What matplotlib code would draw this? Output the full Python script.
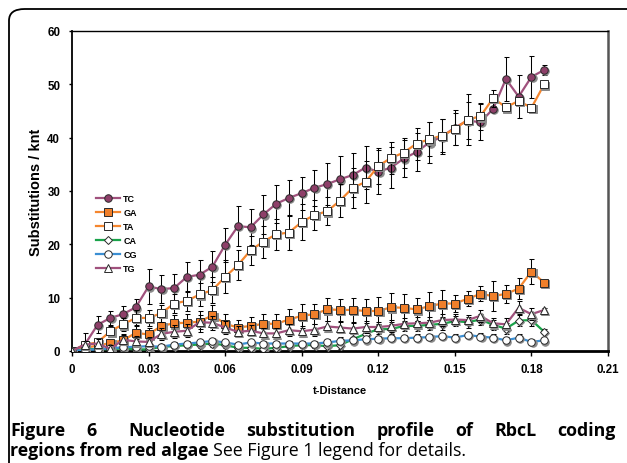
import matplotlib
matplotlib.use('Agg')
import matplotlib.pyplot as plt
import matplotlib.transforms as mtransforms
from matplotlib.patches import FancyBboxPatch
from matplotlib.lines import Line2D

plt.rcParams['font.family'] = ['Liberation Sans', 'DejaVu Sans']

t_distance = [0, 0.005, 0.01, 0.015, 0.02, 0.025, 0.03, 0.035, 0.04, 0.045,
              0.05, 0.055, 0.06, 0.065, 0.07, 0.075, 0.08, 0.085, 0.09, 0.095,
              0.1, 0.105, 0.11, 0.115, 0.12, 0.125, 0.13, 0.135, 0.14, 0.145,
              0.15, 0.155, 0.16, 0.165, 0.17, 0.175, 0.18, 0.185]

tc = [0, 1.2, 4.9, 6.2, 6.9, 8.2, 12.1, 11.6, 11.8, 13.9,
      14.3, 15.8, 19.9, 23.4, 23.2, 25.6, 27.6, 28.7, 29.6, 30.6,
      31.3, 32.2, 33.0, 34.4, 33.6, 34.4, 36.1, 37.3, 39.1, 40.2,
      41.9, 43.2, 42.9, 45.4, 51.0, 47.7, 51.4, 52.7]
tc_err = [0, 2.2, 1.6, 1.3, 1.5, 1.5, 3.2, 2.6, 2.7, 2.8,
          2.8, 2.9, 3.2, 3.8, 3.4, 3.6, 3.6, 3.4, 3.1, 3.4,
          3.9, 4.4, 4.1, 4.1, 4.1, 3.9, 3.5, 3.5, 3.9, 3.3,
          3.2, 3.5, 3.4, 0.5, 4.2, 4.1, 3.9, 1.0]

ga = [0, 0.6, 1.0, 1.5, 2.0, 3.4, 3.1, 4.7, 5.2, 5.3,
      5.5, 6.7, 5.1, 4.4, 4.7, 5.1, 5.1, 5.9, 6.6, 6.9,
      7.8, 7.7, 7.7, 7.5, 7.5, 8.2, 8.1, 7.8, 8.4, 8.9,
      8.9, 9.8, 10.7, 10.3, 10.7, 11.7, 14.9, 12.8]
ga_err = [0, 0.5, 0.6, 0.8, 1.0, 1.2, 1.3, 1.5, 1.5, 1.7,
          2.0, 2.0, 1.8, 1.5, 1.6, 1.8, 1.8, 1.9, 2.2, 1.9,
          2.2, 2.0, 2.2, 2.2, 2.7, 2.7, 2.6, 2.2, 2.6, 2.6,
          1.6, 1.4, 1.4, 2.8, 1.7, 1.9, 2.4, 0.3]

ta = [0, 1.2, 1.6, 3.7, 5.0, 6.2, 6.2, 7.1, 8.9, 9.4,
      10.6, 11.4, 13.9, 16.1, 18.9, 20.5, 21.9, 22.2, 24.2, 25.5,
      26.2, 28.2, 30.6, 31.7, 34.7, 36.2, 37.2, 38.9, 39.7, 40.4,
      41.6, 43.4, 44.0, 47.4, 45.7, 46.9, 45.6, 50.0]
ta_err = [0, 0.6, 0.8, 1.0, 1.2, 1.4, 1.5, 1.6, 1.8, 1.9,
          2.2, 2.4, 3.1, 2.8, 2.7, 3.0, 2.9, 3.3, 3.3, 2.9,
          2.6, 3.1, 3.7, 3.9, 3.4, 3.0, 2.8, 3.0, 3.2, 3.1,
          3.0, 4.7, 2.5, 1.6, 0.8, 0.8, 0.8, 0.5]

ca = [0, 0.3, 0.4, 0.3, 0.5, 0.3, 0.3, 0.8, 0.9, 1.1,
      1.2, 1.4, 1.1, 0.6, 0.6, 0.4, 0.6, 0.9, 1.1, 1.1,
      0.9, 1.1, 2.2, 3.2, 4.1, 4.1, 4.7, 4.7, 4.9, 5.1,
      5.6, 5.4, 5.9, 4.9, 4.2, 5.7, 5.8, 3.6]
ca_err = [0, 0.3, 0.3, 0.3, 0.4, 0.4, 0.4, 0.5, 0.5, 0.6,
          0.6, 0.6, 0.6, 0.5, 0.5, 0.5, 0.5, 0.6, 0.6, 0.6,
          0.7, 0.8, 0.9, 0.9, 0.9, 0.9, 1.0, 1.0, 1.0, 1.1,
          1.0, 1.0, 1.1, 1.0, 1.0, 1.0, 1.1, 0.5]

cg = [0, 0.2, 0.3, 0.5, 0.7, 0.8, 0.9, 0.8, 1.2, 1.4,
      1.6, 1.9, 1.6, 1.2, 1.6, 1.4, 1.4, 1.4, 1.4, 1.4,
      1.6, 1.9, 2.0, 2.2, 2.3, 2.4, 2.4, 2.5, 2.6, 2.8,
      2.5, 3.0, 2.7, 2.5, 2.0, 2.5, 1.7, 2.0]
cg_err = [0, 0.2, 0.2, 0.3, 0.3, 0.3, 0.4, 0.4, 0.4, 0.5,
          0.5, 0.5, 0.5, 0.5, 0.5, 0.5, 0.5, 0.5, 0.5, 0.5,
          0.6, 0.7, 0.7, 0.7, 0.6, 0.6, 0.6, 0.6, 0.6, 0.6,
          0.6, 0.6, 0.6, 0.6, 0.6, 0.6, 0.6, 0.3]

tg = [0, 1.2, 1.4, 0.4, 2.1, 1.8, 1.7, 3.2, 3.6, 3.8,
      5.4, 5.3, 4.4, 3.6, 3.8, 3.3, 3.3, 3.9, 3.7, 4.0,
      4.6, 4.4, 4.2, 4.5, 4.5, 4.7, 5.1, 5.2, 5.3, 5.8,
      5.9, 5.8, 6.6, 5.2, 5.0, 8.1, 6.9, 7.7]
tg_err = [0, 0.6, 0.8, 0.7, 1.0, 1.0, 1.0, 1.1, 1.2, 1.2,
          1.3, 1.3, 1.2, 1.0, 1.0, 1.0, 1.0, 1.1, 1.0, 1.1,
          1.1, 1.0, 1.0, 1.1, 1.0, 1.1, 1.0, 1.1, 1.0, 1.2,
          1.1, 1.0, 1.1, 1.0, 1.1, 1.2, 1.1, 0.4]

x_ticks = [0, 0.03, 0.06, 0.09, 0.12, 0.15, 0.18, 0.21]
x_tick_labels = ['0', '0.03', '0.06', '0.09', '0.12', '0.15', '0.18', '0.21']
y_ticks = [0, 10, 20, 30, 40, 50, 60]

caption_line1 = 'Figure 6  Nucleotide substitution profile of RbcL coding'
caption_bold2 = 'regions from red algae'
caption_rest2 = 'See Figure 1 legend for details.'

purple = '#a0517d'
orange = '#f5862e'
green = '#1aa34a'
blue = '#3b8fd3'

# label, values, errors, line colour, marker, marker face
series = [
    ('TC', tc, tc_err, purple, 'o', '#8e3f69'),
    ('GA', ga, ga_err, orange, 's', '#f07f2a'),
    ('TA', ta, ta_err, orange, 's', 'white'),
    ('CA', ca, ca_err, green, 'D', 'white'),
    ('CG', cg, cg_err, blue, 'o', 'white'),
    ('TG', tg, tg_err, purple, '^', 'white'),
]
marker_sizes = {'o': 5.4, 's': 5.2, 'D': 3.8, '^': 5.6}

fig = plt.figure(figsize=(6.27, 4.64), dpi=100)
fig.patch.set_facecolor('white')

# rounded frame around figure + caption (right and bottom run off the page)
frame = FancyBboxPatch((9 / 627, -0.1), 1.2, 1.1 - 10 / 464,
                       boxstyle='round,pad=0,rounding_size=0.025',
                       transform=fig.transFigure, facecolor='none',
                       edgecolor='black', linewidth=1.3, clip_on=False)
fig.patches.append(frame)

ax = fig.add_axes([72 / 627, 1 - 352 / 464, 536 / 627, 320 / 464])

shadow = ax.transData + mtransforms.ScaledTranslation(0.9 / 72, -0.9 / 72, fig.dpi_scale_trans)

handles = []
for i, (name, vals, errs, color, marker, face) in enumerate(series):
    ms = marker_sizes[marker]
    z = 3 + i * 0.1
    ax.plot(t_distance, vals, color=color, lw=1.6, zorder=z, solid_joinstyle='round')
    ax.errorbar(t_distance, vals, yerr=errs, fmt='none', ecolor='black',
                elinewidth=0.75, capsize=1.8, capthick=0.75, zorder=z + 0.02)
    ax.plot(t_distance, vals, ls='none', marker=marker, ms=ms, mfc='#8a8a8a',
            mec='#8a8a8a', mew=0.7, transform=shadow, zorder=z + 0.03)
    ax.plot(t_distance, vals, ls='none', marker=marker, ms=ms, mfc=face,
            mec='#2a2a2a', mew=0.7, zorder=z + 0.04)
    handles.append(Line2D([], [], color=color, lw=1.6, marker=marker, ms=ms,
                          mfc=face, mec='#2a2a2a', mew=0.7))

ax.legend(handles, [s[0] for s in series], loc='upper left',
          bbox_to_anchor=(0.045, 0.49), frameon=False, borderpad=0,
          borderaxespad=0, handlelength=2.6, handletextpad=0.4,
          labelspacing=0.56, prop={'weight': 'bold', 'size': 6.5})

ax.set_xlim(0, 0.21)
ax.set_ylim(0, 60)
ax.set_xticks(x_ticks)
ax.set_xticklabels(x_tick_labels)
ax.set_yticks(y_ticks)
ax.tick_params(axis='y', direction='out', length=2.5, width=1, pad=6, labelsize=8.3)
ax.tick_params(axis='x', direction='out', length=3.6, width=1, pad=5, labelsize=8.3)
for lab in ax.get_xticklabels() + ax.get_yticklabels():
    lab.set_fontweight('bold')

ax.spines['left'].set_linewidth(1.3)
ax.spines['bottom'].set_linewidth(2.0)
ax.spines['top'].set_linewidth(1.0)
ax.spines['right'].set_linewidth(1.8)
ax.spines['right'].set_color('#555555')

ax.set_xlabel('t-Distance', fontsize=8, fontweight='bold', labelpad=7)
ax.set_ylabel('Substitutions / knt', fontsize=10.5, fontweight='bold', labelpad=3)

# caption: size set so the second line runs to about x=465 px,
# first line justified across the frame width
cap_font = ['Open Sans', 'DejaVu Sans']
left_px, right_px = 10.0, 616.0
base1, base2 = 436.0, 456.0
line2_end_px = 465.0
space_px = 4.0
fig.canvas.draw()
renderer = fig.canvas.get_renderer()

bold2 = fig.text(left_px / 627, 1 - base2 / 464, caption_bold2, family=cap_font,
                 fontweight='bold', fontsize=12, va='baseline', ha='left')
rest2 = fig.text(0, 1 - base2 / 464, caption_rest2, family=cap_font,
                 fontweight='normal', fontsize=12, va='baseline', ha='left')
total = (bold2.get_window_extent(renderer).width
         + rest2.get_window_extent(renderer).width)
cap_size = 12 * (line2_end_px - left_px - space_px) / total
bold2.set_fontsize(cap_size)
rest2.set_fontsize(cap_size)
w2 = bold2.get_window_extent(renderer).width
rest2.set_x((left_px + w2 + space_px) / 627)

words = caption_line1.split()
word_texts = [fig.text(0, 1 - base1 / 464, w, family=cap_font, fontweight='bold',
                       fontsize=cap_size, va='baseline', ha='left') for w in words]
widths = [t.get_window_extent(renderer).width for t in word_texts]
# the gap after "6" is one and a half times the others
gap = (right_px - left_px - sum(widths)) / (len(words) - 1 + 0.5)
x = left_px
for i, (t, w) in enumerate(zip(word_texts, widths)):
    t.set_x(x / 627)
    x += w + gap + (gap * 0.5 if i == 1 else 0)

fig.savefig('out.png', dpi=100, facecolor='white')
